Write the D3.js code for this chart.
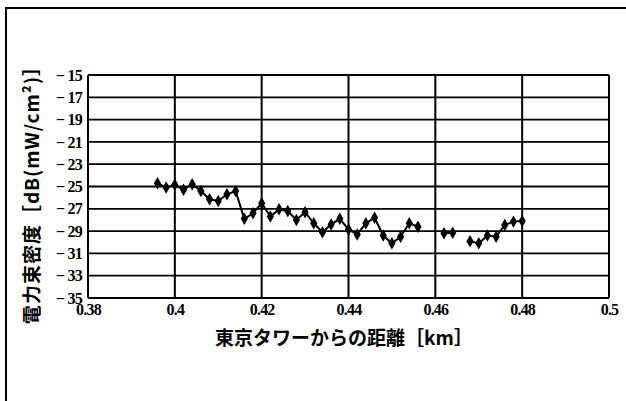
<!DOCTYPE html>
<html>
<head>
<meta charset="utf-8">
<script src="https://d3js.org/d3.v7.min.js"></script>
<style>
body { margin: 0; background: #fff; }
svg { display: block; }
</style>
</head>
<body>
<svg width="626" height="401"></svg>
<script>
// distance from Tokyo Tower [km] and power flux density [dB(mW/cm2)], null = no reading
var distances = [0.396, 0.398, 0.400, 0.402, 0.404, 0.406, 0.408, 0.410, 0.412, 0.414,
  0.416, 0.418, 0.420, 0.422, 0.424, 0.426, 0.428, 0.430, 0.432, 0.434,
  0.436, 0.438, 0.440, 0.442, 0.444, 0.446, 0.448, 0.450, 0.452, 0.454,
  0.456, 0.458, 0.460, 0.462, 0.464, 0.466, 0.468, 0.470, 0.472, 0.474,
  0.476, 0.478, 0.480];
var density = [-24.7, -25.1, -24.85, -25.3, -24.8, -25.4, -26.15, -26.3, -25.7, -25.4,
  -27.9, -27.4, -26.5, -27.7, -27.05, -27.2, -28.0, -27.3, -28.3, -29.1,
  -28.4, -27.9, -28.85, -29.3, -28.3, -27.8, -29.4, -30.1, -29.5, -28.3,
  -28.6, null, null, -29.2, -29.15, null, -29.9, -30.1, -29.4, -29.5,
  -28.45, -28.15, -28.1];
var xTicks = [0.38, 0.4, 0.42, 0.44, 0.46, 0.48, 0.5];
var yTicks = [-15, -17, -19, -21, -23, -25, -27, -29, -31, -33, -35];

var svg = d3.select("svg");
var plotLeft = 88, plotRight = 609, plotTop = 75, plotBottom = 298;
var numFont = "'Liberation Serif', 'DejaVu Serif', serif";
var jpFont = "'Noto Sans CJK JP', sans-serif";

var x = d3.scaleLinear().domain([0.38, 0.5]).range([plotLeft, plotRight]);
var y = d3.scaleLinear().domain([-35, -15]).range([plotBottom, plotTop]);

// outer frame of the figure
svg.append("path")
  .attr("d", "M6,401 L6,8 L626,8")
  .attr("fill", "none")
  .attr("stroke", "#000")
  .attr("stroke-width", 2);

// grid
svg.append("g").selectAll("line")
  .data(yTicks)
  .enter().append("line")
  .attr("x1", plotLeft).attr("x2", plotRight)
  .attr("y1", function (d) { return y(d); })
  .attr("y2", function (d) { return y(d); })
  .attr("stroke", "#000")
  .attr("stroke-width", 1.8);

svg.append("g").selectAll("line")
  .data(xTicks)
  .enter().append("line")
  .attr("y1", plotTop).attr("y2", plotBottom)
  .attr("x1", function (d) { return x(d); })
  .attr("x2", function (d) { return x(d); })
  .attr("stroke", "#000")
  .attr("stroke-width", 2);

// tick labels
var xAxis = d3.axisBottom(x).tickValues(xTicks).tickSize(0).tickPadding(6)
  .tickFormat(function (d) { return String(d); });
var gx = svg.append("g").attr("transform", "translate(0," + plotBottom + ")").call(xAxis);
gx.select(".domain").remove();
gx.attr("font-family", numFont).attr("font-size", 16).attr("font-weight", "bold");
gx.selectAll("text")
  .style("font-family", numFont)
  .style("letter-spacing", "-0.8px")
  .attr("fill", "#000");

var yAxis = d3.axisLeft(y).tickValues(yTicks).tickSize(0).tickPadding(6)
  .tickFormat(function (d) { return "\u2212 " + Math.abs(d); });
var gy = svg.append("g").attr("transform", "translate(" + plotLeft + ",0)").call(yAxis);
gy.select(".domain").remove();
gy.attr("font-family", numFont).attr("font-size", 16).attr("font-weight", "bold");
gy.selectAll("text")
  .style("font-family", numFont)
  .style("letter-spacing", "-0.8px")
  .attr("fill", "#000");

// series
var pts = distances.map(function (d, i) { return { x: d, y: density[i] }; });

var line = d3.line()
  .defined(function (d) { return d.y !== null; })
  .x(function (d) { return x(d.x); })
  .y(function (d) { return y(d.y); });

svg.append("path")
  .datum(pts)
  .attr("d", line)
  .attr("fill", "none")
  .attr("stroke", "#000")
  .attr("stroke-width", 2);

svg.append("g").selectAll("path")
  .data(pts.filter(function (d) { return d.y !== null; }))
  .enter().append("path")
  .attr("d", d3.symbol().type(d3.symbolDiamond).size(45))
  .attr("transform", function (d) { return "translate(" + x(d.x) + "," + y(d.y) + ")"; })
  .attr("fill", "#000");

// axis titles
svg.append("text")
  .attr("x", 344)
  .attr("y", 345)
  .attr("text-anchor", "middle")
  .attr("fill", "#000")
  .style("font-family", jpFont)
  .style("font-weight", "bold")
  .style("font-size", "19px")
  .text("東京タワーからの距離［km］");

svg.append("text")
  .attr("transform", "translate(39,190) rotate(-90)")
  .attr("text-anchor", "middle")
  .attr("fill", "#000")
  .style("font-family", jpFont)
  .style("font-weight", "bold")
  .style("font-size", "19px")
  .style("letter-spacing", "1px")
  .text("電力束密度［dB(mW/cm²)］");
</script>
</body>
</html>
